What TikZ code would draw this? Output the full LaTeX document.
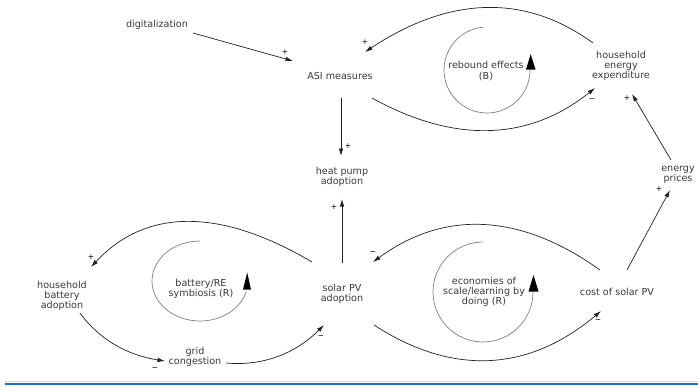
\documentclass[tikz,border=0pt]{standalone}
\usepackage{fontspec}
\setmainfont{DejaVu Sans}
\usetikzlibrary{arrows.meta,calc}
\definecolor{txt}{HTML}{3A3A3A}
\definecolor{ln}{HTML}{222222}
\definecolor{loopc}{HTML}{808080}
\definecolor{rule}{HTML}{1F6FC0}
\tikzset{
  lbl/.style={text=txt, align=center, inner sep=0pt, font=\fontsize{9.6}{10.2}\selectfont},
  arr/.style={draw=ln, line width=0.7pt, -{Latex[length=7.5pt,width=4.5pt]}},
  pol/.style={text=black, inner sep=0pt, font=\fontsize{7.5}{8}\selectfont},
  loopline/.style={draw=loopc, line width=0.7pt},
  loophead/.style={fill=black, draw=none}
}
\begin{document}
\begin{tikzpicture}[x=1pt,y=-1pt]
\useasboundingbox (0,0) rectangle (698,386);
\fill[white] (0,0) rectangle (698,386);

% variables
\node[lbl] (dig) at (157,25) {digitalization};
\node[lbl] (asi) at (340,76) {ASI measures};
\node[lbl] (hp) at (342,177) {heat pump\\adoption};
\node[lbl] (spv) at (342,294) {solar PV\\adoption};
\node[lbl] (hba) at (62,296) {household\\battery\\adoption};
\node[lbl] (grid) at (195,357) {grid\\congestion};
\node[lbl] (cost) at (617,292) {cost of solar PV};
\node[lbl] (ep) at (678,175) {energy\\prices};
\node[lbl] (hee) at (621,66) {household\\energy\\expenditure};

% loop labels
\node[lbl] (reb) at (486,71) {rebound effects\\(B)};
\node[lbl] (bat) at (201,289) {battery/RE\\symbiosis (R)};
\node[lbl] (eco) at (484,292) {economies of\\scale/learning by\\doing (R)};

% straight links
\draw[arr] ($(dig)+(36,8)$) -- ($(asi)+(-47,-15)$);
\draw[arr] ($(asi)+(1,22)$) -- ($(hp)+(-1,-21)$);
\draw[arr] ($(spv)+(0,-31)$) -- ($(hp)+(0,22)$);
\draw[arr] ($(ep)+(-7,-15)$) -- ($(hee)+(11,28)$);
\draw[arr] ($(cost)+(10,-22)$) -- ($(ep)+(-8,15)$);

% curved links
\draw[arr] ($(hee)+(-28,-23)$) .. controls (525,-6.7) and (449,-3.7) .. ($(asi)+(25,-24)$);
\draw[arr] ($(asi)+(32,22)$) .. controls (455,144) and (529.3,140.7) .. ($(hee)+(-26,22)$);
\draw[arr] ($(cost)+(-17,-22)$) .. controls (519.7,212.7) and (444,210) .. ($(spv)+(31,-32)$);
\draw[arr] ($(spv)+(32,31)$) .. controls (453,376.3) and (528.7,371.7) .. ($(cost)+(-16,19)$);
\draw[arr] ($(spv)+(-30,-32)$) .. controls (219,207) and (145.3,208.7) .. ($(hba)+(29,-29)$);
\draw[arr] ($(hba)+(18,17)$) .. controls (99,339.3) and (127.3,355.3) .. ($(grid)+(-30,4)$);
\draw[arr] ($(grid)+(31,6)$) .. controls (262.7,366.3) and (295.3,353.7) .. ($(spv)+(-18,31)$);

% polarities
\node[pol] (p1) at (285,52) {+};
\node[pol] (p2) at (348,146) {+};
\node[pol] (p3) at (334,207) {+};
\node[pol] (p4) at (365,42) {+};
\node[pol] (p5) at (592,100) {\textminus};
\node[pol] (p6) at (627,98) {+};
\node[pol] (p7) at (659,189) {+};
\node[pol] (p8) at (373,253) {\textminus};
\node[pol] (p9) at (598,321) {\textminus};
\node[pol] (p10) at (91,257) {+};
\node[pol] (p11) at (155,369) {\textminus};
\node[pol] (p12) at (321,337) {\textminus};

% loop symbols
\draw[loopline] (487,70) ++(-95:43) arc[start angle=-95, end angle=-360, radius=43];
\fill[loophead] (530.7,54) -- (535.5,69.5) -- (526,69.5) -- cycle;

\draw[loopline] (483,292) ++(-90:50) arc[start angle=-90, end angle=-360, radius=50];
\fill[loophead] (533.5,275) -- (538.5,291.5) -- (528.5,291.5) -- cycle;

\draw[loopline] (200,281) ++(0,-40) arc[start angle=-90, end angle=-345, x radius=48, y radius=40];
\fill[loophead] (247.2,272.5) -- (251,289.5) -- (243,289.5) -- cycle;

% bottom rule
\draw[draw=black!15, line width=0.8pt] (5,381.8) -- (698,381.8);
\draw[draw=rule, line width=2pt] (5,384) -- (698,384);
\end{tikzpicture}
\end{document}
